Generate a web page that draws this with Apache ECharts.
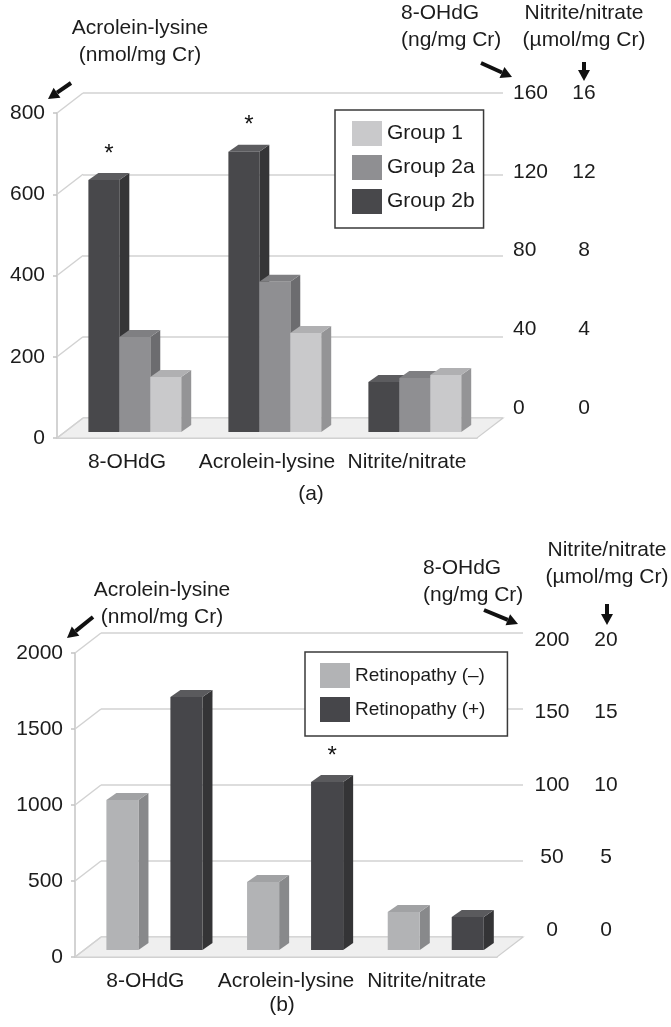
<!DOCTYPE html>
<html>
<head>
<meta charset="utf-8">
<script src="https://cdn.jsdelivr.net/npm/echarts@6/dist/echarts.min.js"></script>
<style>
  html, body { margin: 0; padding: 0; background: #fff; }
  #chart { width: 671px; height: 1027px; }
</style>
</head>
<body>
<div id="chart"></div>
<script>
// ---- data ----------------------------------------------------------
const measures = ['8-OHdG', 'Acrolein-lysine', 'Nitrite/nitrate'];

// (a) by patient group; 8-OHdG ng/mg Cr, acrolein-lysine nmol/mg Cr, nitrite/nitrate µmol/mg Cr
const groupNamesA = ['Group 1', 'Group 2a', 'Group 2b'];
const group1A  = [27.1, 244, 2.81];
const group2aA = [46.8, 370, 2.66];
const group2bA = [124.1, 690, 2.46];
const starsA = { 'Group 2b': [true, true, false] };
const acroTicksA = [0, 200, 400, 600, 800];
const ohdgTicksA = [0, 40, 80, 120, 160];
const noxTicksA  = [0, 4, 8, 12, 16];

// (b) by retinopathy status
const groupNamesB = ['Retinopathy (–)', 'Retinopathy (+)'];
const retNegB = [98.7, 447, 2.50];
const retPosB = [166.4, 1105, 2.17];
const starsB = { 'Retinopathy (+)': [false, true, false] };
const acroTicksB = [0, 500, 1000, 1500, 2000];
const ohdgTicksB = [0, 50, 100, 150, 200];
const noxTicksB  = [0, 5, 10, 15, 20];

// ---- styling -------------------------------------------------------
const FONT = '"Liberation Sans", Arial, Helvetica, sans-serif';
const INK = '#1c1c1c';
const GRID_LINE = '#d2d2d2';

const shadesA = {
  'Group 1':  { front: '#c9c9cb', side: '#949496', top: '#b0b0b2' },
  'Group 2a': { front: '#8f8f92', side: '#6c6c6f', top: '#7f7f82' },
  'Group 2b': { front: '#48484b', side: '#353537', top: '#5c5c5f' }
};
const shadesB = {
  'Retinopathy (–)': { front: '#b2b3b5', side: '#88898b', top: '#a1a2a4' },
  'Retinopathy (+)': { front: '#46464a', side: '#343436', top: '#5a5a5d' }
};

const option = {
  animation: false,
  backgroundColor: '#fff',
  textStyle: { fontFamily: FONT },
  grid: [], xAxis: [], yAxis: [], series: [], legend: [], graphic: []
};

const plain = v => String(v);

function axisRange(ticks) {
  return { min: ticks[0], max: ticks[ticks.length - 1], interval: ticks[1] - ticks[0] };
}

function cuboidRenderer(slot, nSlots, shade, stars, geom) {
  return function (params, api) {
    const c = api.value(0), v = api.value(1);
    const top = api.coord([c, v]);
    const base = api.coord([c, 0]);
    const band = api.size([1, 0])[0];
    const w = band * geom.barFrac;
    const pitch = band * geom.pitchFrac;
    const x0 = top[0] + (slot - (nSlots - 1) / 2) * pitch - w / 2;
    const yT = top[1], yB = base[1];
    const dx = geom.barDepth[0], dy = geom.barDepth[1];
    const children = [
      { type: 'polygon', shape: { points: [[x0 + w, yT], [x0 + w + dx, yT + dy], [x0 + w + dx, yB + dy], [x0 + w, yB]] },
        style: { fill: shade.side } },
      { type: 'polygon', shape: { points: [[x0, yT], [x0 + dx, yT + dy], [x0 + w + dx, yT + dy], [x0 + w, yT]] },
        style: { fill: shade.top } },
      { type: 'rect', shape: { x: x0, y: yT, width: w, height: yB - yT }, style: { fill: shade.front } }
    ];
    if (stars && stars[c]) {
      children.push({ type: 'text', style: { text: '*', x: x0 + w / 2 + dx / 2, y: yT - 26,
        align: 'center', verticalAlign: 'middle', fontSize: 24, fontFamily: FONT, fill: '#111' } });
    }
    return { type: 'group', children };
  };
}

function addPanel(p) {
  const g0 = option.grid.length;
  const x0 = option.xAxis.length;
  const y0 = option.yAxis.length;
  const f = p.front, D = p.depth, k = p.barDepthFrac;
  const at = (dx, dy) => ({ left: f.left + dx, top: f.top + dy, width: f.width, height: f.height, outerBoundsMode: 'none' });

  // front plane, bar plane, back wall, right-hand label column
  option.grid.push(at(0, 0), at(D[0] * k, D[1] * k), at(D[0], D[1]),
    Object.assign({ outerBoundsMode: 'none' }, p.labelGrid));

  const acro = axisRange(p.acroTicks), ohdg = axisRange(p.ohdgTicks), nox = axisRange(p.noxTicks);

  // x axes
  option.xAxis.push(
    { type: 'category', gridIndex: g0, data: measures,
      axisLine: { lineStyle: { color: '#c4c4c4', width: 1.5 } },
      axisTick: { length: 5, lineStyle: { color: '#c4c4c4', width: 1.5 } },
      axisLabel: { color: INK, fontSize: 21, margin: 14, fontFamily: FONT, interval: 0, hideOverlap: false } },
    { type: 'category', gridIndex: g0 + 1, data: measures, show: false },
    { type: 'category', gridIndex: g0 + 2, data: measures, show: false },
    { type: 'category', gridIndex: g0 + 3, data: measures, show: false }
  );

  // y axes
  const hidden = { show: false, splitLine: { show: false } };
  option.yAxis.push(
    // 0: front, acrolein-lysine scale
    Object.assign({ type: 'value', gridIndex: g0, position: 'left',
      axisLine: { show: true, lineStyle: { color: '#c4c4c4', width: 1.5 } },
      axisTick: { show: true, length: 4, lineStyle: { color: '#c4c4c4', width: 1.5 } },
      splitLine: { show: false },
      axisLabel: { color: INK, fontSize: 21, margin: 12, fontFamily: FONT, formatter: plain } }, acro),
    // 1-3: bar plane, one scale per measure
    Object.assign({ type: 'value', gridIndex: g0 + 1, position: 'left' }, hidden, acro),
    Object.assign({ type: 'value', gridIndex: g0 + 1, position: 'right' }, hidden, ohdg),
    Object.assign({ type: 'value', gridIndex: g0 + 1, position: 'right' }, hidden, nox),
    // 4: back wall gridlines
    Object.assign({ type: 'value', gridIndex: g0 + 2, position: 'left',
      axisLine: { show: false }, axisTick: { show: false }, axisLabel: { show: false },
      splitLine: { show: true, lineStyle: { color: GRID_LINE, width: 1.5 } } }, acro),
    // 5-6: right-hand label columns
    Object.assign({ type: 'value', gridIndex: g0 + 3, position: 'right',
      axisLine: { show: false }, axisTick: { show: false }, splitLine: { show: false },
      axisLabel: { color: INK, fontSize: 21, fontFamily: FONT, align: p.col1Align, margin: p.col1Margin, formatter: plain } }, ohdg),
    Object.assign({ type: 'value', gridIndex: g0 + 3, position: 'right',
      axisLine: { show: false }, axisTick: { show: false }, splitLine: { show: false },
      axisLabel: { color: INK, fontSize: 21, fontFamily: FONT, align: 'center', margin: p.col2Margin, formatter: plain } }, nox)
  );

  // floor of the box
  option.series.push({
    type: 'custom', xAxisIndex: x0, yAxisIndex: y0, z: 1, silent: true,
    data: [[0, 0]],
    renderItem: function (params, api) {
      const cs = params.coordSys;
      const yb = cs.y + cs.height;
      return { type: 'polygon', shape: { points: [[cs.x, yb], [cs.x + cs.width, yb],
        [cs.x + cs.width + D[0], yb + D[1]], [cs.x + D[0], yb + D[1]]] },
        style: { fill: '#efefef', stroke: '#cfcfcf', lineWidth: 1.2 } };
    }
  });

  // left wall: one receding line per tick of the acrolein-lysine scale
  option.series.push({
    type: 'custom', xAxisIndex: x0, yAxisIndex: y0, z: 1, silent: true,
    data: p.acroTicks.map(t => [0, t]),
    renderItem: function (params, api) {
      const cs = params.coordSys;
      const y = api.coord([0, api.value(1)])[1];
      return { type: 'line', shape: { x1: cs.x, y1: y, x2: cs.x + D[0], y2: y + D[1] },
        style: { stroke: GRID_LINE, lineWidth: 1.5 } };
    }
  });

  // bars: each measure on its own scale in the bar plane
  const axisOfMeasure = [y0 + 2, y0 + 1, y0 + 3];
  const nSlots = p.order.length;
  measures.forEach((m, mi) => {
    p.order.forEach((name, slot) => {
      option.series.push({
        type: 'custom', name: name, z: 3, silent: true,
        xAxisIndex: x0 + 1, yAxisIndex: axisOfMeasure[mi],
        itemStyle: { color: p.shades[name].front },
        data: [[mi, p.values[name][mi]]],
        renderItem: cuboidRenderer(slot, nSlots, p.shades[name], p.stars[name], p.geom)
      });
    });
  });

  option.legend.push(Object.assign({
    orient: 'vertical', icon: 'rect', selectedMode: false,
    data: p.legendOrder,
    backgroundColor: '#fff', borderColor: '#3a3a3a', borderWidth: 1.5, borderRadius: 0,
    textStyle: { color: INK, fontSize: p.legendFont, fontFamily: FONT }
  }, p.legend));
}

addPanel({
  front: { left: 57, top: 113, width: 420, height: 325 },
  depth: [26, -20], barDepthFrac: 0.3,
  labelGrid: { left: 83, top: 93, width: 420, height: 315 },
  col1Align: 'left', col1Margin: 10, col2Margin: 81,
  acroTicks: acroTicksA, ohdgTicks: ohdgTicksA, noxTicks: noxTicksA,
  order: ['Group 2b', 'Group 2a', 'Group 1'],
  legendOrder: groupNamesA,
  values: { 'Group 1': group1A, 'Group 2a': group2aA, 'Group 2b': group2bA },
  shades: shadesA, stars: starsA,
  geom: { barFrac: 0.221, pitchFrac: 0.221, barDepth: [10, -7] },
  legendFont: 21,
  legend: { left: 335, top: 110, itemWidth: 30, itemHeight: 25, itemGap: 9, padding: [11, 9, 14, 17] }
});

addPanel({
  front: { left: 75, top: 653, width: 422, height: 304 },
  depth: [26, -20], barDepthFrac: 0.35,
  labelGrid: { left: 101, top: 640, width: 422, height: 290 },
  col1Align: 'center', col1Margin: 29, col2Margin: 83,
  acroTicks: acroTicksB, ohdgTicks: ohdgTicksB, noxTicks: noxTicksB,
  order: ['Retinopathy (–)', 'Retinopathy (+)'],
  legendOrder: groupNamesB,
  values: { 'Retinopathy (–)': retNegB, 'Retinopathy (+)': retPosB },
  shades: shadesB, stars: starsB,
  geom: { barFrac: 0.228, pitchFrac: 0.455, barDepth: [10, -7] },
  legendFont: 19,
  legend: { left: 305, top: 652, itemWidth: 30, itemHeight: 25, itemGap: 9, padding: [11, 22, 14, 15] }
});

// ---- axis captions, arrows and panel letters ----
function caption(text, x, y, align) {
  return { type: 'text', silent: true, style: { text: text, x: x, y: y, align: align || 'center',
    verticalAlign: 'middle', fontSize: 21, lineHeight: 27, fontFamily: FONT, fill: INK } };
}
function arrow(x1, y1, x2, y2) {
  const ang = Math.atan2(y2 - y1, x2 - x1), L = 11, W = 6;
  const bx = x2 - L * Math.cos(ang), by = y2 - L * Math.sin(ang);
  const nx = -Math.sin(ang), ny = Math.cos(ang);
  return [
    { type: 'line', silent: true, shape: { x1: x1, y1: y1, x2: bx, y2: by }, style: { stroke: '#111', lineWidth: 4 } },
    { type: 'polygon', silent: true, shape: { points: [[x2, y2], [bx + nx * W, by + ny * W], [bx - nx * W, by - ny * W]] }, style: { fill: '#111' } }
  ];
}

option.graphic = [].concat(
  caption('Acrolein-lysine\n(nmol/mg Cr)', 140, 42),
  caption('8-OHdG\n(ng/mg Cr)', 401, 27, 'left'),
  caption('Nitrite/nitrate\n(\u00b5mol/mg Cr)', 584, 27),
  arrow(71, 83, 48, 99),
  arrow(481, 63, 512, 77),
  arrow(584, 62, 584, 81),
  caption('(a)', 311, 494),

  caption('Acrolein-lysine\n(nmol/mg Cr)', 162, 604),
  caption('8-OHdG\n(ng/mg Cr)', 423, 582, 'left'),
  caption('Nitrite/nitrate\n(\u00b5mol/mg Cr)', 607, 564),
  arrow(93, 617, 67, 638),
  arrow(484, 610, 518, 624),
  arrow(607, 604, 607, 625),
  caption('(b)', 282, 1005)
);

const chart = echarts.init(document.getElementById('chart'), null, { renderer: 'canvas' });
chart.setOption(option);
</script>
</body>
</html>
